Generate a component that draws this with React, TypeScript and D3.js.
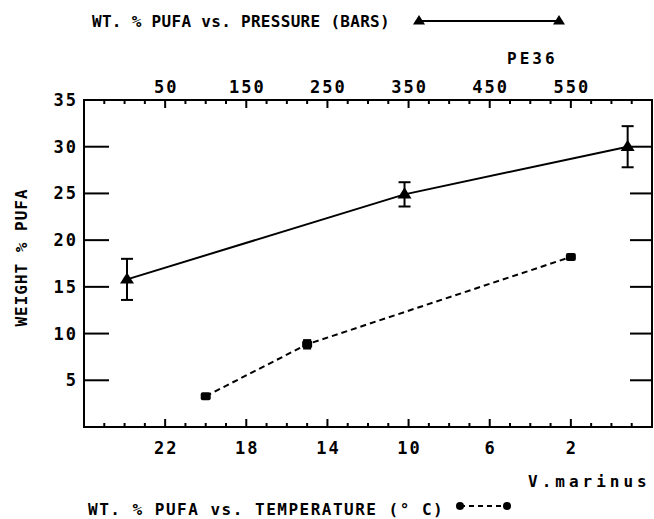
import React from 'react';
import * as d3 from 'd3';

// PE36: weight % PUFA vs. pressure (bars)
const pressureBars = [3, 345, 620];
const pe36Pufa = [15.8, 24.9, 30.0];
const pe36Err = [2.2, 1.3, 2.2];

// V. marinus: weight % PUFA vs. temperature (deg C)
const temperatureC = [20, 15, 2];
const marinusPufa = [3.3, 8.85, 18.2];
const marinusErr = [0.2, 0.45, 0.2];

const yTicks = [5, 10, 15, 20, 25, 30];
const pressureTicks = [50, 150, 250, 350, 450, 550];
const temperatureTicks = [22, 18, 14, 10, 6, 2];

const W = 654;
const H = 519;
const box = { left: 84, top: 100, right: 652, bottom: 427 };
const FONT = '"DejaVu Sans Mono", monospace';

const App: React.FC = () => {
  const x = d3.scaleLinear().domain([-50, 650]).range([box.left, box.right]);
  const xT = d3.scaleLinear().domain([26, -2]).range([box.left, box.right]);
  const y = d3.scaleLinear().domain([0, 35]).range([box.bottom, box.top]);

  const pe36 = pressureBars.map((p, i) => ({ x: x(p), y: y(pe36Pufa[i]), v: pe36Pufa[i], e: pe36Err[i] }));
  const marinus = temperatureC.map((t, i) => ({ x: xT(t), y: y(marinusPufa[i]), v: marinusPufa[i], e: marinusErr[i] }));

  const line = d3.line<{ x: number; y: number }>().x(d => d.x).y(d => d.y);

  const topMinor = d3.range(-25, 650, 25).filter(v => !pressureTicks.includes(v));
  const botMinor = d3.range(25, -2, -1).filter(v => !temperatureTicks.includes(v));

  const tri = (cx: number, cy: number, s = 6) =>
    `M${cx},${cy - s} L${cx + s},${cy + s * 0.6} L${cx - s},${cy + s * 0.6} Z`;

  const txt = { fontFamily: FONT, fontWeight: 700, fill: '#000' } as const;

  return (
    <div style={{ position: 'absolute', left: 0, top: 0 }}>
      <svg width={W} height={H} style={{ display: 'block', background: '#fff' }}>
        {/* titles */}
        <text x={92} y={27} fontSize={16} letterSpacing={0.3} style={txt}>
          WT. % PUFA vs. PRESSURE (BARS)
        </text>
        <line x1={419} x2={559} y1={21} y2={21} stroke="#000" strokeWidth={2} />
        <path d={tri(419, 21, 6)} fill="#000" />
        <path d={tri(559, 21, 6)} fill="#000" />
        <text x={507} y={64} fontSize={16} letterSpacing={3} style={txt}>PE36</text>

        <text x={528} y={487} fontSize={16} letterSpacing={4} style={txt}>V.marinus</text>
        <text x={88} y={515} fontSize={16} letterSpacing={1.5} style={txt}>
          WT. % PUFA vs. TEMPERATURE (° C)
        </text>
        <line x1={460} x2={507} y1={506} y2={506} stroke="#000" strokeWidth={2} strokeDasharray="5,4" />
        <circle cx={460} cy={506} r={4} fill="#000" />
        <circle cx={507} cy={506} r={4} fill="#000" />

        {/* y label */}
        <text
          transform={`translate(27,${(box.top + box.bottom) / 2 - 6}) rotate(-90)`}
          textAnchor="middle"
          fontSize={16}
          letterSpacing={1}
          style={txt}
        >
          WEIGHT % PUFA
        </text>

        {/* frame */}
        <rect
          x={box.left}
          y={box.top}
          width={box.right - box.left}
          height={box.bottom - box.top}
          fill="none"
          stroke="#000"
          strokeWidth={2}
        />

        {/* top pressure axis */}
        {pressureTicks.map(v => (
          <g key={`pt${v}`}>
            <line x1={x(v)} x2={x(v)} y1={box.top} y2={box.top + 8} stroke="#000" strokeWidth={2} />
            <text x={x(v) + 1} y={93} textAnchor="middle" fontSize={17} letterSpacing={2} style={txt}>{v}</text>
          </g>
        ))}
        {topMinor.map(v => (
          <line key={`pm${v}`} x1={x(v)} x2={x(v)} y1={box.top} y2={box.top + 4} stroke="#000" strokeWidth={2} />
        ))}

        {/* bottom temperature axis */}
        {temperatureTicks.map(v => (
          <g key={`tt${v}`}>
            <line x1={xT(v)} x2={xT(v)} y1={box.bottom} y2={box.bottom - 8} stroke="#000" strokeWidth={2} />
            <text x={xT(v) + 1} y={454} textAnchor="middle" fontSize={17} letterSpacing={2} style={txt}>{v}</text>
          </g>
        ))}
        {botMinor.map(v => (
          <line key={`tm${v}`} x1={xT(v)} x2={xT(v)} y1={box.bottom} y2={box.bottom - 4} stroke="#000" strokeWidth={2} />
        ))}

        {/* y axis */}
        {yTicks.map(v => (
          <g key={`y${v}`}>
            <line x1={box.left} x2={box.left + 25} y1={y(v)} y2={y(v)} stroke="#000" strokeWidth={2} />
            <line x1={box.right} x2={box.right - 22} y1={y(v)} y2={y(v)} stroke="#000" strokeWidth={2} />
            <text x={78} y={y(v) + 6} textAnchor="end" fontSize={17} letterSpacing={2} style={txt}>{v}</text>
          </g>
        ))}
        <text x={78} y={y(35) + 6} textAnchor="end" fontSize={17} letterSpacing={2} style={txt}>35</text>

        {/* PE36 series */}
        <path d={line(pe36) || ''} fill="none" stroke="#000" strokeWidth={2} />
        {pe36.map((d, i) => (
          <g key={`pe${i}`}>
            <line x1={d.x} x2={d.x} y1={y(d.v + d.e)} y2={y(d.v - d.e)} stroke="#000" strokeWidth={2} />
            <line x1={d.x - 6} x2={d.x + 6} y1={y(d.v + d.e)} y2={y(d.v + d.e)} stroke="#000" strokeWidth={2} />
            <line x1={d.x - 6} x2={d.x + 6} y1={y(d.v - d.e)} y2={y(d.v - d.e)} stroke="#000" strokeWidth={2} />
            <path d={tri(d.x, d.y, 7)} fill="#000" />
          </g>
        ))}

        {/* V. marinus series */}
        <path d={line(marinus) || ''} fill="none" stroke="#000" strokeWidth={2} strokeDasharray="6,4" />
        {marinus.map((d, i) => (
          <g key={`vm${i}`}>
            <line x1={d.x} x2={d.x} y1={y(d.v + d.e)} y2={y(d.v - d.e)} stroke="#000" strokeWidth={2} />
            <line x1={d.x - 4} x2={d.x + 4} y1={y(d.v + d.e)} y2={y(d.v + d.e)} stroke="#000" strokeWidth={2} />
            <line x1={d.x - 4} x2={d.x + 4} y1={y(d.v - d.e)} y2={y(d.v - d.e)} stroke="#000" strokeWidth={2} />
            <rect x={d.x - 5} y={d.y - 4} width={10} height={8} rx={2} fill="#000" />
          </g>
        ))}
      </svg>
    </div>
  );
};

export default App;
